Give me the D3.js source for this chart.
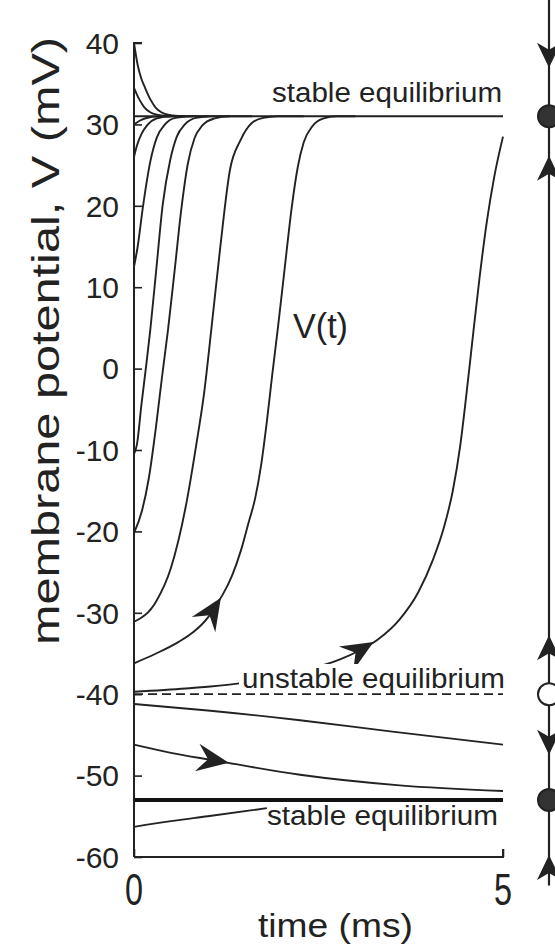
<!DOCTYPE html>
<html>
<head>
<meta charset="utf-8">
<script src="https://cdn.jsdelivr.net/npm/d3@7"></script>
<style>
  html, body { margin: 0; padding: 0; background: #fff; }
  svg { display: block; }
  text { font-family: "Liberation Sans", Arial, Helvetica, sans-serif; fill: #222; }
</style>
</head>
<body>
<svg id="chart" width="555" height="945"></svg>
<script>
// ---------------- data ----------------
const timeTicks = [0, 5];
const voltTicks = [40, 30, 20, 10, 0, -10, -20, -30, -40, -50, -60];

const stableHigh = 31;
const unstableV = -40;
const stableLow = -53;

// trajectories V(t): [time (ms), V (mV)]
const traj40 = [[0,40],[0.05,37.3],[0.1,35.6],[0.15,34.5],[0.22,33.1],[0.29,32.1],[0.37,31.5],[0.46,31.2],[0.6,31.05],[0.8,31]];
const traj34 = [[0,34.5],[0.07,33.1],[0.14,32.1],[0.22,31.5],[0.31,31.2],[0.45,31.05],[0.65,31]];
const traj30 = [[0,30],[0.05,30.3],[0.1,30.55],[0.2,30.85],[0.3,30.95],[0.5,31]];
const traj26 = [[0,26],[0.04,27.4],[0.1,28.8],[0.18,29.9],[0.3,30.7],[0.5,31],[0.7,31]];
const traj13 = [[0,12.5],[0.05,15],[0.12,19.8],[0.22,25.4],[0.31,28.4],[0.42,30],[0.56,30.8],[0.78,31],[1.0,31]];
const trajM10 = [[0,-10.5],[0.04,-9.3],[0.1,-4.5],[0.16,0],[0.22,4.7],[0.3,12],[0.39,20.2],[0.49,25.6],[0.58,28.5],[0.69,30],[0.84,30.8],[1.05,31],[1.3,31]];
const trajM20 = [[0,-20.2],[0.11,-17.4],[0.2,-13.5],[0.3,-7],[0.38,-1],[0.46,4.7],[0.55,12],[0.64,19.5],[0.73,25.2],[0.82,28.3],[0.93,29.9],[1.08,30.7],[1.3,31],[1.6,31]];
const trajM31 = [[0,-31.1],[0.3,-28.6],[0.5,-24.5],[0.7,-17],[0.85,-9],[0.95,-3],[1.05,5],[1.17,15],[1.3,24.4],[1.44,28],[1.6,30.2],[1.75,30.8],[1.95,31],[2.3,31]];
const trajM36 = [[0,-36.2],[0.3,-35.0],[0.6,-33.6],[0.8,-32.4],[1.0,-30.6],[1.1,-29.2],[1.2,-27.8],[1.33,-25.4],[1.45,-22.3],[1.55,-19.0],[1.64,-16.0],[1.72,-12.0],[1.8,-6.5],[1.87,-1],[1.95,5],[2.05,13],[2.14,20],[2.22,24.8],[2.3,27.8],[2.42,29.8],[2.56,30.7],[2.75,31],[3.0,31]];
const trajM39 = [[0,-39.7],[0.7,-39.3],[1.4,-38.7],[2.0,-37.7],[2.5,-36.6],[2.8,-35.7],[3.06,-34.6],[3.3,-33.3],[3.6,-30.8],[3.85,-27.5],[4.05,-23.5],[4.2,-19.5],[4.32,-15],[4.42,-9.5],[4.5,-3.5],[4.58,3],[4.68,11],[4.78,18],[4.88,23.5],[5.0,28.5]];
const trajM41 = [[0,-41.2],[1.0,-42.0],[2.25,-43.2],[3.5,-44.6],[5.0,-46.2]];
const trajM46 = [[0,-46.2],[0.5,-47.2],[1.07,-48.1],[2.25,-49.9],[3.6,-51.2],[5.0,-51.9]];
const trajM56 = [[0,-56.3],[0.5,-55.6],[1.0,-55.0],[1.8,-54.0]];

const trajectories = [traj40, traj34, traj30, traj26, traj13, trajM10, trajM20, trajM31, trajM36, trajM39, trajM41, trajM46, trajM56];

// arrowheads on trajectories: which trajectory, position (t, V)
const curveArrows = [
  { traj: trajM36, t: 1.06, v: -29.8 },
  { traj: trajM39, t: 3.06, v: -34.6 },
  { traj: trajM46, t: 1.07, v: -48.1 }
];

// phase line (right): equilibria and flow arrows
const phaseEquilibria = [
  { v: 31, stable: true },
  { v: -40, stable: false },
  { v: -53, stable: true }
];
const phaseArrows = [
  { v: 38.5, dir: "down" },
  { v: 24.6, dir: "up" },
  { v: -34.3, dir: "up" },
  { v: -45.9, dir: "down" },
  { v: -61.3, dir: "up" }
];
const phaseLineRange = [45.5, -63.5];

// ---------------- drawing ----------------
const svg = d3.select("#chart");
const ink = "#222";

const x = d3.scaleLinear().domain([0, 5]).range([134, 503]);
const y = d3.scaleLinear().domain([-60, 40]).range([857, 43]);

const line = d3.line()
  .x(d => x(d[0])).y(d => y(d[1]))
  .curve(d3.curveMonotoneX);

// equilibrium lines
svg.append("line")
  .attr("x1", x(0)).attr("x2", x(5))
  .attr("y1", y(stableHigh)).attr("y2", y(stableHigh))
  .attr("stroke", ink).attr("stroke-width", 1.8);
svg.append("line")
  .attr("x1", x(0)).attr("x2", x(5))
  .attr("y1", y(unstableV)).attr("y2", y(unstableV))
  .attr("stroke", ink).attr("stroke-width", 1.8)
  .attr("stroke-dasharray", "9,5");
svg.append("line")
  .attr("x1", x(0)).attr("x2", x(5))
  .attr("y1", y(stableLow)).attr("y2", y(stableLow))
  .attr("stroke", "#111").attr("stroke-width", 4);

// trajectories
svg.append("g").selectAll("path")
  .data(trajectories)
  .join("path")
  .attr("d", line)
  .attr("fill", "none")
  .attr("stroke", ink)
  .attr("stroke-width", 1.9);

// arrowhead shape (pointing +x)
const arrowPath = (L, W, N) => `M${L/2},0 L${-L/2},${-W} L${-L/2 + N},0 L${-L/2},${W} Z`;

function tangentAngle(traj, t) {
  let i = traj.findIndex(p => p[0] > t);
  if (i <= 0) i = 1;
  const a = traj[i - 1], b = traj[i];
  return Math.atan2(y(b[1]) - y(a[1]), x(b[0]) - x(a[0])) * 180 / Math.PI;
}

svg.append("g").selectAll("path")
  .data(curveArrows)
  .join("path")
  .attr("d", arrowPath(32, 14, 11))
  .attr("transform", d => `translate(${x(d.t)},${y(d.v)}) rotate(${tangentAngle(d.traj, d.t)})`)
  .attr("fill", ink);

// axes
const yAxis = d3.axisRight(y).tickValues(voltTicks).tickSize(8).tickFormat("");
const gy = svg.append("g").attr("transform", `translate(${x(0)},0)`).call(yAxis);
gy.select(".domain").attr("d", `M8,${y(40)}H0V${y(-60)}`).attr("stroke", ink).attr("stroke-width", 2);
gy.selectAll(".tick line").attr("stroke", ink).attr("stroke-width", 1.6);

const xAxis = d3.axisTop(x).tickValues(timeTicks).tickSize(8).tickFormat("");
const gx = svg.append("g").attr("transform", `translate(0,${y(-60)})`).call(xAxis);
gx.select(".domain").attr("d", `M${x(0)},0H${x(5)}V-8`).attr("stroke", ink).attr("stroke-width", 2);
gx.selectAll(".tick line").attr("stroke", ink).attr("stroke-width", 1.6);

// y tick labels
svg.append("g").selectAll("text")
  .data(voltTicks)
  .join("text")
  .attr("x", 119)
  .attr("y", d => y(d))
  .attr("dy", "0.36em")
  .attr("text-anchor", "end")
  .attr("font-size", 30)
  .text(d => d);

// x tick labels (tall, narrow as in the figure)
svg.append("g").selectAll("text")
  .data(timeTicks)
  .join("text")
  .attr("transform", d => `translate(${x(d)},905) scale(0.72,1)`)
  .attr("text-anchor", "middle")
  .attr("font-size", 45)
  .text(d => d);

// axis titles
svg.append("text")
  .attr("x", 258).attr("y", 937)
  .attr("font-size", 34)
  .attr("textLength", 155).attr("lengthAdjust", "spacingAndGlyphs")
  .text("time (ms)");

svg.append("text")
  .attr("transform", `translate(59,${341}) rotate(-90)`)
  .attr("text-anchor", "middle")
  .attr("font-size", 38)
  .attr("textLength", 608).attr("lengthAdjust", "spacingAndGlyphs")
  .text("membrane potential, V (mV)");

// annotations
svg.append("text")
  .attr("x", 272).attr("y", 102)
  .attr("font-size", 27)
  .attr("textLength", 230).attr("lengthAdjust", "spacingAndGlyphs")
  .text("stable equilibrium");

svg.append("rect")
  .attr("x", 239).attr("y", 664).attr("width", 268).attr("height", 29)
  .attr("fill", "#fff");
svg.append("text")
  .attr("x", 242).attr("y", 688)
  .attr("font-size", 28)
  .attr("textLength", 263).attr("lengthAdjust", "spacingAndGlyphs")
  .text("unstable equilibrium");

svg.append("text")
  .attr("x", 267).attr("y", 825)
  .attr("font-size", 27)
  .attr("textLength", 231).attr("lengthAdjust", "spacingAndGlyphs")
  .text("stable equilibrium");

svg.append("text")
  .attr("x", 293).attr("y", 338)
  .attr("font-size", 35)
  .attr("textLength", 55).attr("lengthAdjust", "spacingAndGlyphs")
  .text("V(t)");

// phase line on the right
const px = 549;
svg.append("line")
  .attr("x1", px).attr("x2", px)
  .attr("y1", y(phaseLineRange[0])).attr("y2", y(phaseLineRange[1]))
  .attr("stroke", ink).attr("stroke-width", 2.2);

svg.append("g").selectAll("path")
  .data(phaseArrows)
  .join("path")
  .attr("d", arrowPath(25, 12, 7))
  .attr("transform", d => `translate(${px},${y(d.v)}) rotate(${d.dir === "down" ? 90 : -90})`)
  .attr("fill", ink);

svg.append("g").selectAll("circle")
  .data(phaseEquilibria)
  .join("circle")
  .attr("cx", px).attr("cy", d => y(d.v))
  .attr("r", 11)
  .attr("fill", d => d.stable ? "#333" : "#fff")
  .attr("stroke", ink).attr("stroke-width", 2);
</script>
</body>
</html>
